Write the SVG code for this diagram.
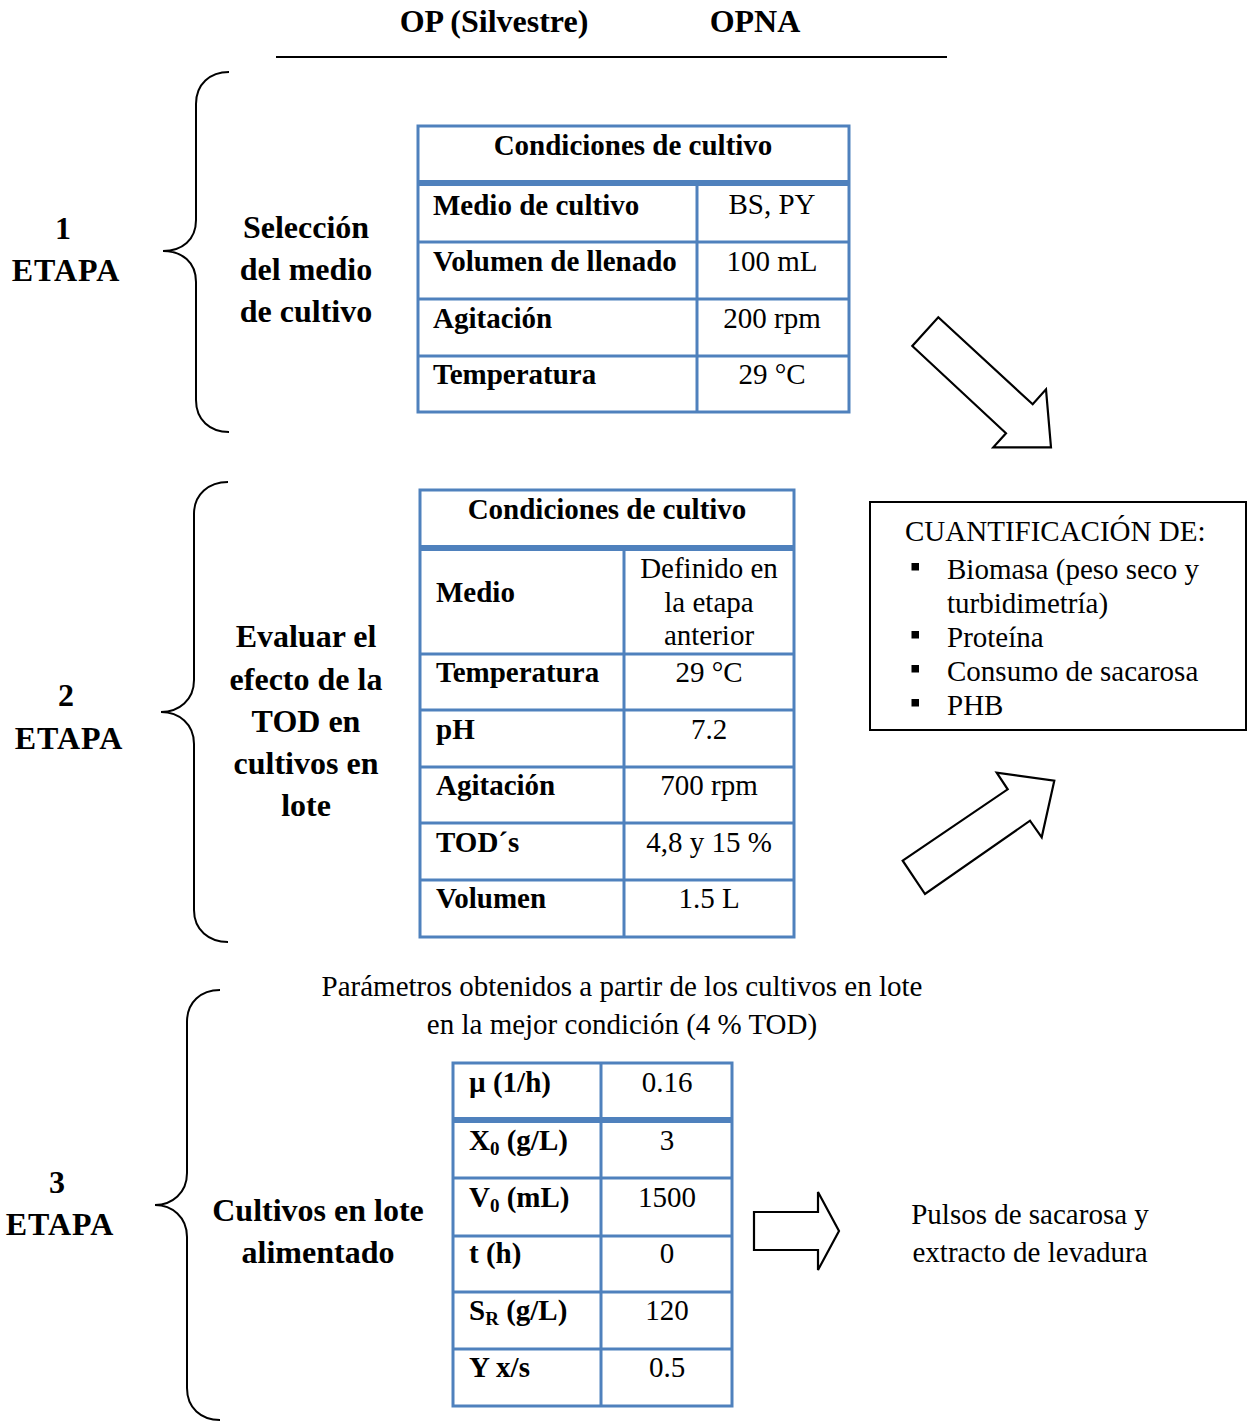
<svg xmlns="http://www.w3.org/2000/svg" width="1251" height="1421" viewBox="0 0 1251 1421">
<style>
text{font-family:"Liberation Serif","Times New Roman",serif;fill:#000}
.b{font-weight:bold}
.big{font-size:32px}
.t{font-size:29px}
.c{text-anchor:middle}
.grid{fill:none;stroke:#4F81BD;stroke-width:3}
.thick{stroke:#4F81BD;stroke-width:6}
.brace{fill:none;stroke:#000;stroke-width:2}
.arrow{fill:#fff;stroke:#000;stroke-width:2.2;stroke-linejoin:miter}
</style>
<rect width="1251" height="1421" fill="#fff"/>

<g id="header">
<text class="b big c" x="494" y="32">OP (Silvestre)</text>
<text class="b big c" x="755" y="32">OPNA</text>
<line x1="276" y1="57" x2="947" y2="57" stroke="#000" stroke-width="2"/>
</g>

<g id="stage1">
<text class="b big c" x="63" y="239">1</text>
<text class="b big c" x="66" y="281" letter-spacing="1">ETAPA</text>
<path class="brace" d="M229,72 C210,72 196,84 196,104 L196,220 C196,240 182,251 163,251 C182,251 196,262 196,282 L196,400 C196,420 210,432 229,432"/>
<text class="b big c" x="306" y="238">Selección</text>
<text class="b big c" x="306" y="280">del medio</text>
<text class="b big c" x="306" y="322">de cultivo</text>
</g>

<g id="table1">
<rect class="grid" x="418" y="126" width="431" height="286"/>
<line class="thick" x1="418" y1="183" x2="849" y2="183"/>
<line class="grid" x1="418" y1="242" x2="849" y2="242"/>
<line class="grid" x1="418" y1="299" x2="849" y2="299"/>
<line class="grid" x1="418" y1="356" x2="849" y2="356"/>
<line class="grid" x1="697" y1="183" x2="697" y2="412"/>
<text class="b t c" x="633" y="155">Condiciones de cultivo</text>
<text class="b t" x="433" y="215">Medio de cultivo</text>
<text class="b t" x="433" y="271">Volumen de llenado</text>
<text class="b t" x="433" y="328">Agitación</text>
<text class="b t" x="433" y="384">Temperatura</text>
<text class="t c" x="772" y="214">BS, PY</text>
<text class="t c" x="772" y="271">100 mL</text>
<text class="t c" x="772" y="328">200 rpm</text>
<text class="t c" x="772" y="384">29 °C</text>
</g>

<g id="stage2">
<text class="b big c" x="66" y="706">2</text>
<text class="b big c" x="69" y="749" letter-spacing="1">ETAPA</text>
<path class="brace" d="M228,482 C209,482 194,494 194,514 L194,680 C194,700 179,712 161,712 C179,712 194,724 194,744 L194,910 C194,930 209,942 228,942"/>
<text class="b big c" x="306" y="647">Evaluar el</text>
<text class="b big c" x="306" y="690">efecto de la</text>
<text class="b big c" x="306" y="732">TOD en</text>
<text class="b big c" x="306" y="774">cultivos en</text>
<text class="b big c" x="306" y="816">lote</text>
</g>

<g id="table2">
<rect class="grid" x="420" y="490" width="374" height="447"/>
<line class="thick" x1="420" y1="548" x2="794" y2="548"/>
<line class="grid" x1="420" y1="654" x2="794" y2="654"/>
<line class="grid" x1="420" y1="710" x2="794" y2="710"/>
<line class="grid" x1="420" y1="767" x2="794" y2="767"/>
<line class="grid" x1="420" y1="823" x2="794" y2="823"/>
<line class="grid" x1="420" y1="880" x2="794" y2="880"/>
<line class="grid" x1="624" y1="548" x2="624" y2="937"/>
<text class="b t c" x="607" y="519">Condiciones de cultivo</text>
<text class="b t" x="436" y="602">Medio</text>
<text class="b t" x="436" y="682">Temperatura</text>
<text class="b t" x="436" y="739">pH</text>
<text class="b t" x="436" y="795">Agitación</text>
<text class="b t" x="436" y="852">TOD´s</text>
<text class="b t" x="436" y="908">Volumen</text>
<text class="t c" x="709" y="578">Definido en</text>
<text class="t c" x="709" y="612">la etapa</text>
<text class="t c" x="709" y="645">anterior</text>
<text class="t c" x="709" y="682">29 °C</text>
<text class="t c" x="709" y="739">7.2</text>
<text class="t c" x="709" y="795">700 rpm</text>
<text class="t c" x="709" y="852">4,8 y 15 %</text>
<text class="t c" x="709" y="908">1.5 L</text>
</g>

<g id="quantification">
<rect x="870" y="502" width="376" height="228" fill="#fff" stroke="#000" stroke-width="2"/>
<text class="t" x="905" y="541">CUANTIFICACIÓN DE:</text>
<rect x="911.5" y="563" width="7.5" height="7.5"/>
<rect x="911.5" y="631" width="7.5" height="7.5"/>
<rect x="911.5" y="665" width="7.5" height="7.5"/>
<rect x="911.5" y="699" width="7.5" height="7.5"/>
<text class="t" x="947" y="579">Biomasa (peso seco y</text>
<text class="t" x="947" y="613">turbidimetría)</text>
<text class="t" x="947" y="647">Proteína</text>
<text class="t" x="947" y="681">Consumo de sacarosa</text>
<text class="t" x="947" y="715">PHB</text>
</g>

<g id="stage3">
<text class="b big c" x="57" y="1193">3</text>
<text class="b big c" x="60" y="1235" letter-spacing="1">ETAPA</text>
<path class="brace" d="M220,990 C201,990 187,1002 187,1022 L187,1173 C187,1193 172,1205 155,1205 C172,1205 187,1217 187,1237 L187,1388 C187,1408 201,1420 220,1420"/>
<text class="b big c" x="318" y="1221">Cultivos en lote</text>
<text class="b big c" x="318" y="1263">alimentado</text>
<text class="t c" x="622" y="996">Parámetros obtenidos a partir de los cultivos en lote</text>
<text class="t c" x="622" y="1034">en la mejor condición (4 % TOD)</text>
</g>

<g id="table3">
<rect class="grid" x="453" y="1063" width="279" height="343"/>
<line class="thick" x1="453" y1="1120" x2="732" y2="1120"/>
<line class="grid" x1="453" y1="1178" x2="732" y2="1178"/>
<line class="grid" x1="453" y1="1236" x2="732" y2="1236"/>
<line class="grid" x1="453" y1="1292" x2="732" y2="1292"/>
<line class="grid" x1="453" y1="1349" x2="732" y2="1349"/>
<line class="grid" x1="601" y1="1063" x2="601" y2="1406"/>
<text class="b t" x="469" y="1092">µ (1/h)</text>
<text class="b t" x="469" y="1150">X<tspan font-size="19" dy="5">0</tspan><tspan dy="-5"> (g/L)</tspan></text>
<text class="b t" x="469" y="1207">V<tspan font-size="19" dy="5">0</tspan><tspan dy="-5"> (mL)</tspan></text>
<text class="b t" x="469" y="1263">t (h)</text>
<text class="b t" x="469" y="1320">S<tspan font-size="19" dy="5">R</tspan><tspan dy="-5"> (g/L)</tspan></text>
<text class="b t" x="469" y="1377">Y x/s</text>
<text class="t c" x="667" y="1092">0.16</text>
<text class="t c" x="667" y="1150">3</text>
<text class="t c" x="667" y="1207">1500</text>
<text class="t c" x="667" y="1263">0</text>
<text class="t c" x="667" y="1320">120</text>
<text class="t c" x="667" y="1377">0.5</text>
</g>

<g id="pulses">
<text class="t c" x="1030" y="1224">Pulsos de sacarosa y</text>
<text class="t c" x="1030" y="1262">extracto de levadura</text>
</g>

<g id="connectors">
<polygon class="arrow" points="938.3,317.3 1032.7,404.3 1046,389.3 1051,447.3 993.3,447.3 1006,433.3 912.3,346"/>
<polygon class="arrow" points="902.7,860.7 1007.7,789.3 996.7,772.7 1054.3,780.7 1041.7,837.3 1030,820.7 925,894"/>
<polygon class="arrow" points="754,1212 818,1212 818,1192 839,1231 818,1270 818,1250 754,1250"/>
</g>
</svg>
